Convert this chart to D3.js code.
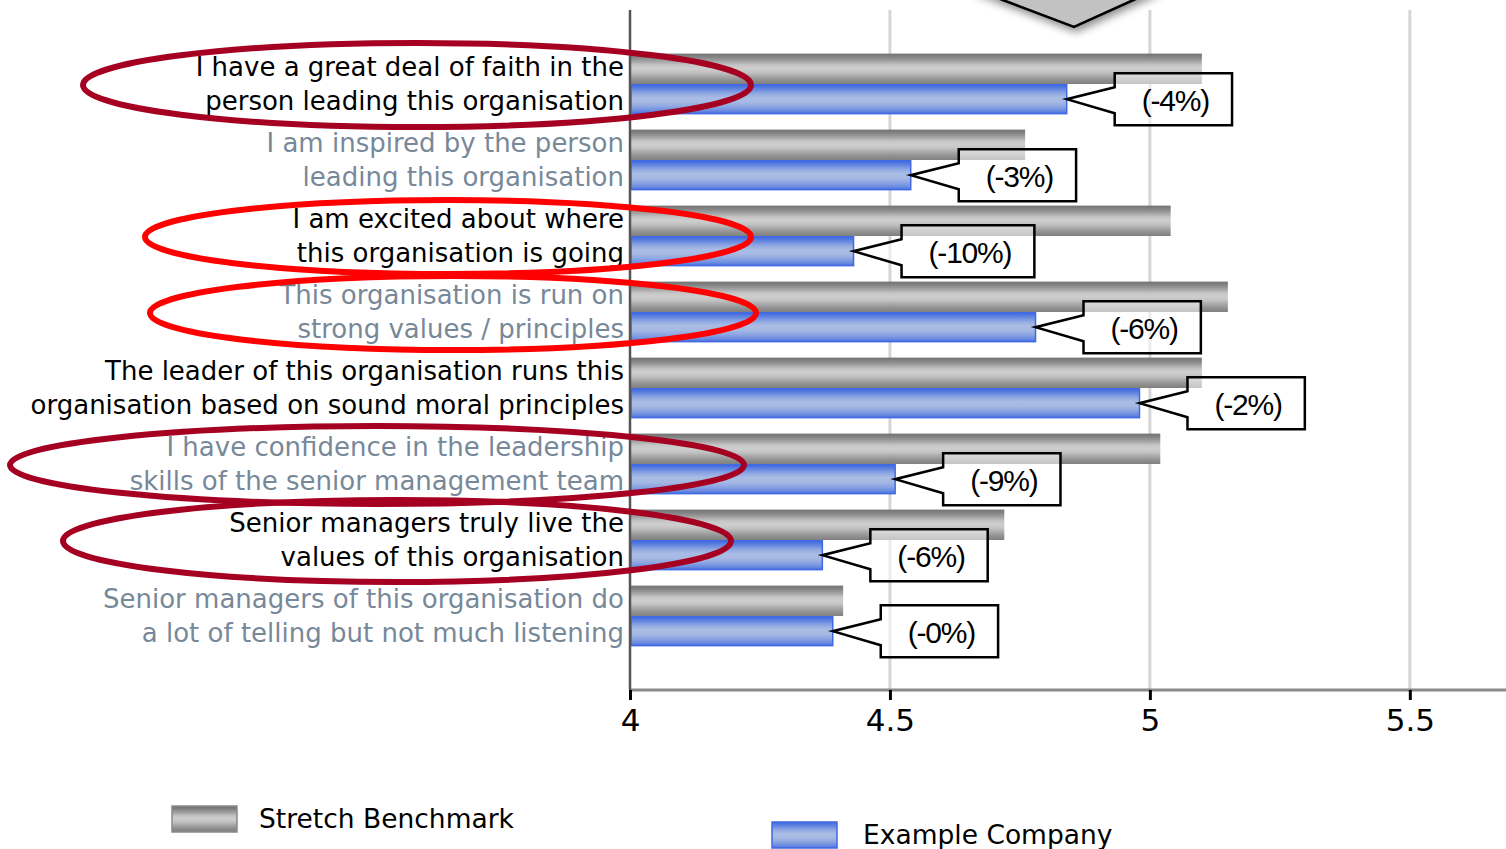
<!DOCTYPE html>
<html>
    <head>
        <meta charset="UTF-8" />
        <title>Leadership - benchmark comparison</title>
        <script src="https://d3js.org/d3.v7.min.js"></script>
        <style>
body {
    margin: 0px;
    background: white;
}
svg {
    display: block;
}
        </style>
    </head>
    <body>
        <svg id="chart"></svg>
<script>
// data
const categories = [
    ["I have a great deal of faith in the", "person leading this organisation"],
    ["I am inspired by the person", "leading this organisation"],
    ["I am excited about where", "this organisation is going"],
    ["This organisation is run on", "strong values / principles"],
    ["The leader of this organisation runs this", "organisation based on sound moral principles"],
    ["I have confidence in the leadership", "skills of the senior management team"],
    ["Senior managers truly live the", "values of this organisation"],
    ["Senior managers of this organisation do", "a lot of telling but not much listening"]
];
const benchmark = [5.10, 4.76, 5.04, 5.15, 5.10, 5.02, 4.72, 4.41];
const company = [4.84, 4.54, 4.43, 4.78, 4.98, 4.51, 4.37, 4.39];
const gapLabels = ["(-4%)", "(-3%)", "(-10%)", "(-6%)", "(-2%)", "(-9%)", "(-6%)", "(-0%)"];
const seriesNames = ["Stretch Benchmark", "Example Company"];
const tickValues = [4, 4.5, 5, 5.5];
// which questions got circled, and in which pen
const circled = [0, 2, 3, 5, 6];
const circlePen = ["dark", "bright", "bright", "dark", "dark"];

const width = 1506, height = 849;
let svg = d3.select("#chart").attr("width", width).attr("height", height);
let defs = svg.append("defs");

// striped bar fills
let makeGrad = (id, stops) => {
    let g = defs.append("linearGradient").attr("id", id)
        .attr("x1", 0).attr("y1", 0).attr("x2", 0).attr("y2", 1);
    stops.forEach(s => g.append("stop").attr("offset", s[0]).attr("stop-color", s[1]));
};
makeGrad("greyBar", [[0, "#6e6e6e"], [0.12, "#828282"], [0.25, "#a0a0a0"], [0.38, "#c4c4c4"],
    [0.5, "#cdcdcd"], [0.62, "#c0c0c0"], [0.75, "#a4a4a4"], [0.88, "#8c8c8c"], [1, "#7c7c7c"]]);
makeGrad("blueBar", [[0, "#3f66e0"], [0.15, "#6387e0"], [0.3, "#8fa8e2"], [0.45, "#a9bce4"],
    [0.6, "#a6b9e3"], [0.75, "#8ea7e2"], [0.9, "#6a8ce0"], [1, "#4a6fe0"]]);

let shadow = defs.append("filter").attr("id", "shadow")
    .attr("x", "-20%").attr("y", "-20%").attr("width", "140%").attr("height", "160%");
shadow.append("feDropShadow").attr("dx", 2).attr("dy", 4).attr("stdDeviation", 4)
    .attr("flood-color", "#000").attr("flood-opacity", 0.45);

// scales
let x = d3.scaleLinear().domain([4, 5.685]).range([630, 1506]);
let y = d3.scaleBand().domain(d3.range(categories.length))
    .range([46, 654]).paddingInner(0.2).paddingOuter(0.1);
let sub = d3.scaleBand().domain([0, 1]).range([0, y.bandwidth()]);

const plotTop = 10, plotBottom = 690;

// grid
svg.append("g").selectAll("line")
    .data(tickValues.filter(t => t > 4))
    .join("line")
    .attr("x1", d => x(d)).attr("x2", d => x(d))
    .attr("y1", plotTop).attr("y2", plotBottom)
    .attr("stroke", "#d6d6d6").attr("stroke-width", 3);

// gray arrow head sticking in from the top
svg.append("path")
    .attr("d", d3.line()([[971, -12], [1074, 27], [1160, -12]]))
    .attr("fill", "#c2c2c2").attr("stroke", "#000").attr("stroke-width", 2.5)
    .attr("filter", "url(#shadow)");

// callouts
let callouts = svg.append("g");
categories.forEach((c, i) => {
    let tipX = x(company[i]);
    let tipY = y(i) + sub(1) + sub.bandwidth() / 2;
    let g = callouts.append("g");
    let txt = g.append("text")
        .attr("font-family", "Liberation Sans, Arial, sans-serif")
        .attr("font-size", 30).attr("letter-spacing", -1.2)
        .attr("text-anchor", "middle").attr("dominant-baseline", "central")
        .text(gapLabels[i]);
    let tw = txt.node().getComputedTextLength();
    let left = tipX + 48, right = left + tw + 50;
    let top = tipY - 26, bottom = tipY + 26;
    let p = d3.path();
    p.moveTo(left, top); p.lineTo(right, top); p.lineTo(right, bottom); p.lineTo(left, bottom);
    p.lineTo(left, tipY + 14); p.lineTo(tipX, tipY); p.lineTo(left, tipY - 12); p.closePath();
    g.insert("path", "text").attr("d", p.toString())
        .attr("fill", "white").attr("stroke", "#000").attr("stroke-width", 2.5)
        .attr("stroke-linejoin", "miter");
    txt.attr("x", (left + right) / 2 + 2).attr("y", tipY + 1);
});

// bars
let bars = svg.append("g");
bars.selectAll(".bench").data(benchmark).join("rect")
    .attr("class", "bench")
    .attr("x", x(4)).attr("y", (d, i) => y(i) + sub(0))
    .attr("width", d => x(d) - x(4)).attr("height", sub.bandwidth())
    .attr("fill", "url(#greyBar)").attr("opacity", 0.97);
bars.selectAll(".comp").data(company).join("rect")
    .attr("class", "comp")
    .attr("x", x(4) + 1).attr("y", (d, i) => y(i) + sub(1) + 0.75)
    .attr("width", d => x(d) - x(4) - 1).attr("height", sub.bandwidth() - 1.5)
    .attr("fill", "url(#blueBar)").attr("stroke", "#4169e1").attr("stroke-width", 1.5);

// callouts back on top, a bit see-through so the grey bar ends still show
callouts.raise();
callouts.selectAll("path").attr("fill", "white").attr("fill-opacity", 0.55);

// axes
let xAxis = svg.append("g").attr("transform", `translate(0,${plotBottom})`)
    .call(d3.axisBottom(x).tickValues(tickValues).tickSize(10).tickPadding(9).tickFormat(d => d));
xAxis.select(".domain").attr("stroke", "#8a8a8a").attr("stroke-width", 3)
    .attr("d", `M${x(4)},0H${width}`);
xAxis.selectAll(".tick line").attr("stroke", "#000").attr("stroke-width", 3);
xAxis.selectAll(".tick text")
    .attr("font-family", "DejaVu Sans, sans-serif")
    .attr("font-size", 31).attr("fill", "#000");

svg.append("line")
    .attr("x1", x(4)).attr("x2", x(4)).attr("y1", plotTop).attr("y2", plotBottom)
    .attr("stroke", "#555").attr("stroke-width", 2.5);

// category labels
let labels = svg.append("g")
    .attr("font-family", "DejaVu Sans, sans-serif")
    .attr("font-size", 26).attr("text-anchor", "end");
categories.forEach((lines, i) => {
    let cy = y(i) + y.bandwidth() / 2;
    let t = labels.append("text")
        .attr("fill", i % 2 === 0 ? "#000" : "#778899");
    lines.forEach((line, j) => {
        t.append("tspan").attr("x", 624)
            .attr("y", cy + (j === 0 ? -17 : 17))
            .attr("dominant-baseline", "central")
            .text(line);
    });
});

// hand drawn ellipses
const penColor = {dark: "#a50021", bright: "#ff0000"};
const ellipseShape = [[417, 334, 42], [448, 303, 37], [453, 303, 37], [377, 367, 39], [397, 334, 41]];
svg.append("g").selectAll("ellipse").data(circled).join("ellipse")
    .attr("cx", (d, k) => ellipseShape[k][0])
    .attr("cy", d => y(d) + y.bandwidth() / 2 + 1)
    .attr("rx", (d, k) => ellipseShape[k][1])
    .attr("ry", (d, k) => ellipseShape[k][2])
    .attr("fill", "none")
    .attr("stroke", (d, k) => penColor[circlePen[k]])
    .attr("stroke-width", 6);

// legend
let legend = svg.append("g")
    .attr("font-family", "DejaVu Sans, sans-serif")
    .attr("font-size", 26.5);
const legendPos = [[172, 806], [772, 822]];
seriesNames.forEach((name, i) => {
    let [lx, ly] = legendPos[i];
    legend.append("rect").attr("x", lx).attr("y", ly).attr("width", 65).attr("height", 26)
        .attr("fill", i === 0 ? "url(#greyBar)" : "url(#blueBar)")
        .attr("stroke", i === 0 ? "#8a8a8a" : "#4169e1").attr("stroke-width", 1.5);
    legend.append("text").attr("x", lx + 87 + (i === 1 ? 4 : 0)).attr("y", ly + 12)
        .attr("dominant-baseline", "central").attr("fill", "#000").text(name);
});
</script>
    </body>
</html>
